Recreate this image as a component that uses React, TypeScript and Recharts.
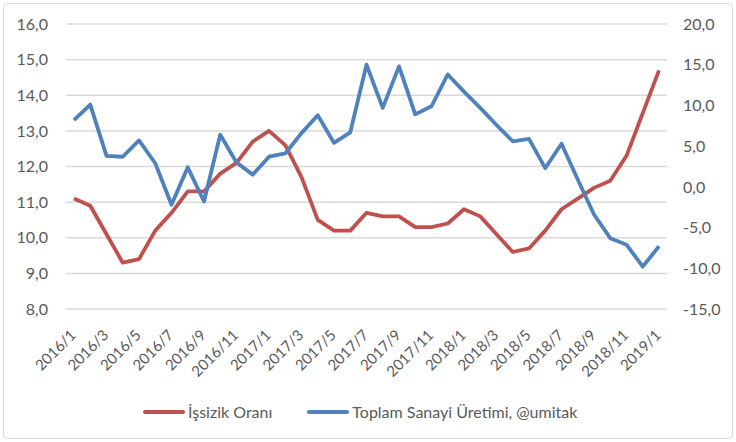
import React from 'react';
import { LineChart, Line, XAxis, YAxis, CartesianGrid } from 'recharts';

const months: string[] = [
  '2016/1', '2016/2', '2016/3', '2016/4', '2016/5', '2016/6', '2016/7', '2016/8', '2016/9', '2016/10', '2016/11', '2016/12',
  '2017/1', '2017/2', '2017/3', '2017/4', '2017/5', '2017/6', '2017/7', '2017/8', '2017/9', '2017/10', '2017/11', '2017/12',
  '2018/1', '2018/2', '2018/3', '2018/4', '2018/5', '2018/6', '2018/7', '2018/8', '2018/9', '2018/10', '2018/11', '2018/12',
  '2019/1',
];

// İşsizlik oranı (sol eksen)
const unemployment: number[] = [
  11.1, 10.9, 10.1, 9.3, 9.4, 10.2, 10.7, 11.3, 11.3, 11.8, 12.1, 12.7,
  13.0, 12.6, 11.7, 10.5, 10.2, 10.2, 10.7, 10.6, 10.6, 10.3, 10.3, 10.4,
  10.8, 10.6, 10.1, 9.6, 9.7, 10.2, 10.8, 11.1, 11.4, 11.6, 12.3, 13.5,
  14.7,
];

// Toplam sanayi üretimi, yıllık % (sağ eksen)
const industrial: number[] = [
  8.2, 10.1, 3.8, 3.7, 5.7, 2.9, -2.2, 2.4, -1.8, 6.4, 3.0, 1.5,
  3.7, 4.1, 6.6, 8.8, 5.4, 6.7, 15.0, 9.7, 14.8, 8.9, 9.9, 13.8,
  11.7, 9.7, 7.6, 5.6, 5.9, 2.3, 5.3, 0.9, -3.4, -6.3, -7.1, -9.8,
  -7.3,
];

const leftTicks = [8, 9, 10, 11, 12, 13, 14, 15, 16];
const rightTicks = [-15, -10, -5, 0, 5, 10, 15, 20];

const RED = '#C0504D';
const BLUE = '#4F81BD';
const TEXT = '#595959';
const FONT = 'Lato, "Open Sans", sans-serif';

const data = months.map((m, i) => ({ month: m, issizlik: unemployment[i], sanayi: industrial[i] }));

const fmt = (v: number) => v.toFixed(1).replace('.', ',');

const MonthTick = (props: any) => {
  const { x, payload } = props;
  return (
    <g transform={`translate(${x + 3},${336})`}>
      <text x={0} y={0} textAnchor="end" transform="rotate(-45)" fill={TEXT} fontSize={15} fontFamily={FONT}>
        {payload.value}
      </text>
    </g>
  );
};

const LegendItem = ({ color, label }: { color: string; label: string }) => (
  <div style={{ display: 'flex', alignItems: 'center' }}>
    <div style={{ width: 42, height: 4, borderRadius: 2, background: color, marginRight: 3 }} />
    <span>{label}</span>
  </div>
);

export default function App() {
  return (
    <div style={{ position: 'absolute', left: 0, top: 0, width: 736, height: 442, background: '#fff' }}>
      <div
        style={{
          position: 'absolute', left: 3, top: 3, width: 728, height: 434,
          border: '1.5px solid #D9D9D9', borderRadius: 4,
        }}
      />
      <LineChart
        width={736}
        height={442}
        data={data}
        margin={{ top: 24, right: 0, left: 0, bottom: 0 }}
        style={{ position: 'absolute', left: 0, top: 0 }}
      >
        <CartesianGrid yAxisId="left" vertical={false} stroke="#D9D9D9" strokeWidth={1.5} />
        <XAxis
          dataKey="month"
          interval={1}
          height={133}
          axisLine={false}
          tickLine={false}
          padding={{ left: 8, right: 8 }}
          tick={<MonthTick />}
        />
        <YAxis
          yAxisId="left"
          width={66}
          domain={[8, 16]}
          ticks={leftTicks}
          axisLine={false}
          tickLine={false}
          tickFormatter={fmt}
          tick={{ fill: TEXT, fontSize: 16, fontFamily: FONT }}
          tickMargin={12}
        />
        <YAxis
          yAxisId="right"
          orientation="right"
          width={69}
          domain={[-15, 20]}
          ticks={rightTicks}
          axisLine={false}
          tickLine={false}
          tickFormatter={fmt}
          tick={{ fill: TEXT, fontSize: 16, fontFamily: FONT, textAnchor: 'start' }}
          tickMargin={10}
        />
        <Line
          yAxisId="left"
          dataKey="issizlik"
          stroke={RED}
          strokeWidth={3.8}
          dot={false}
          strokeLinejoin="round"
          isAnimationActive={false}
        />
        <Line
          yAxisId="right"
          dataKey="sanayi"
          stroke={BLUE}
          strokeWidth={3.8}
          dot={false}
          strokeLinejoin="round"
          isAnimationActive={false}
        />
      </LineChart>
      <div
        style={{
          position: 'absolute', left: 143, top: 402, display: 'flex', gap: 35,
          color: TEXT, fontSize: 16, fontFamily: FONT, lineHeight: '20px',
        }}
      >
        <LegendItem color={RED} label="İşsizik Oranı" />
        <LegendItem color={BLUE} label="Toplam Sanayi Üretimi, @umitak" />
      </div>
    </div>
  );
}
